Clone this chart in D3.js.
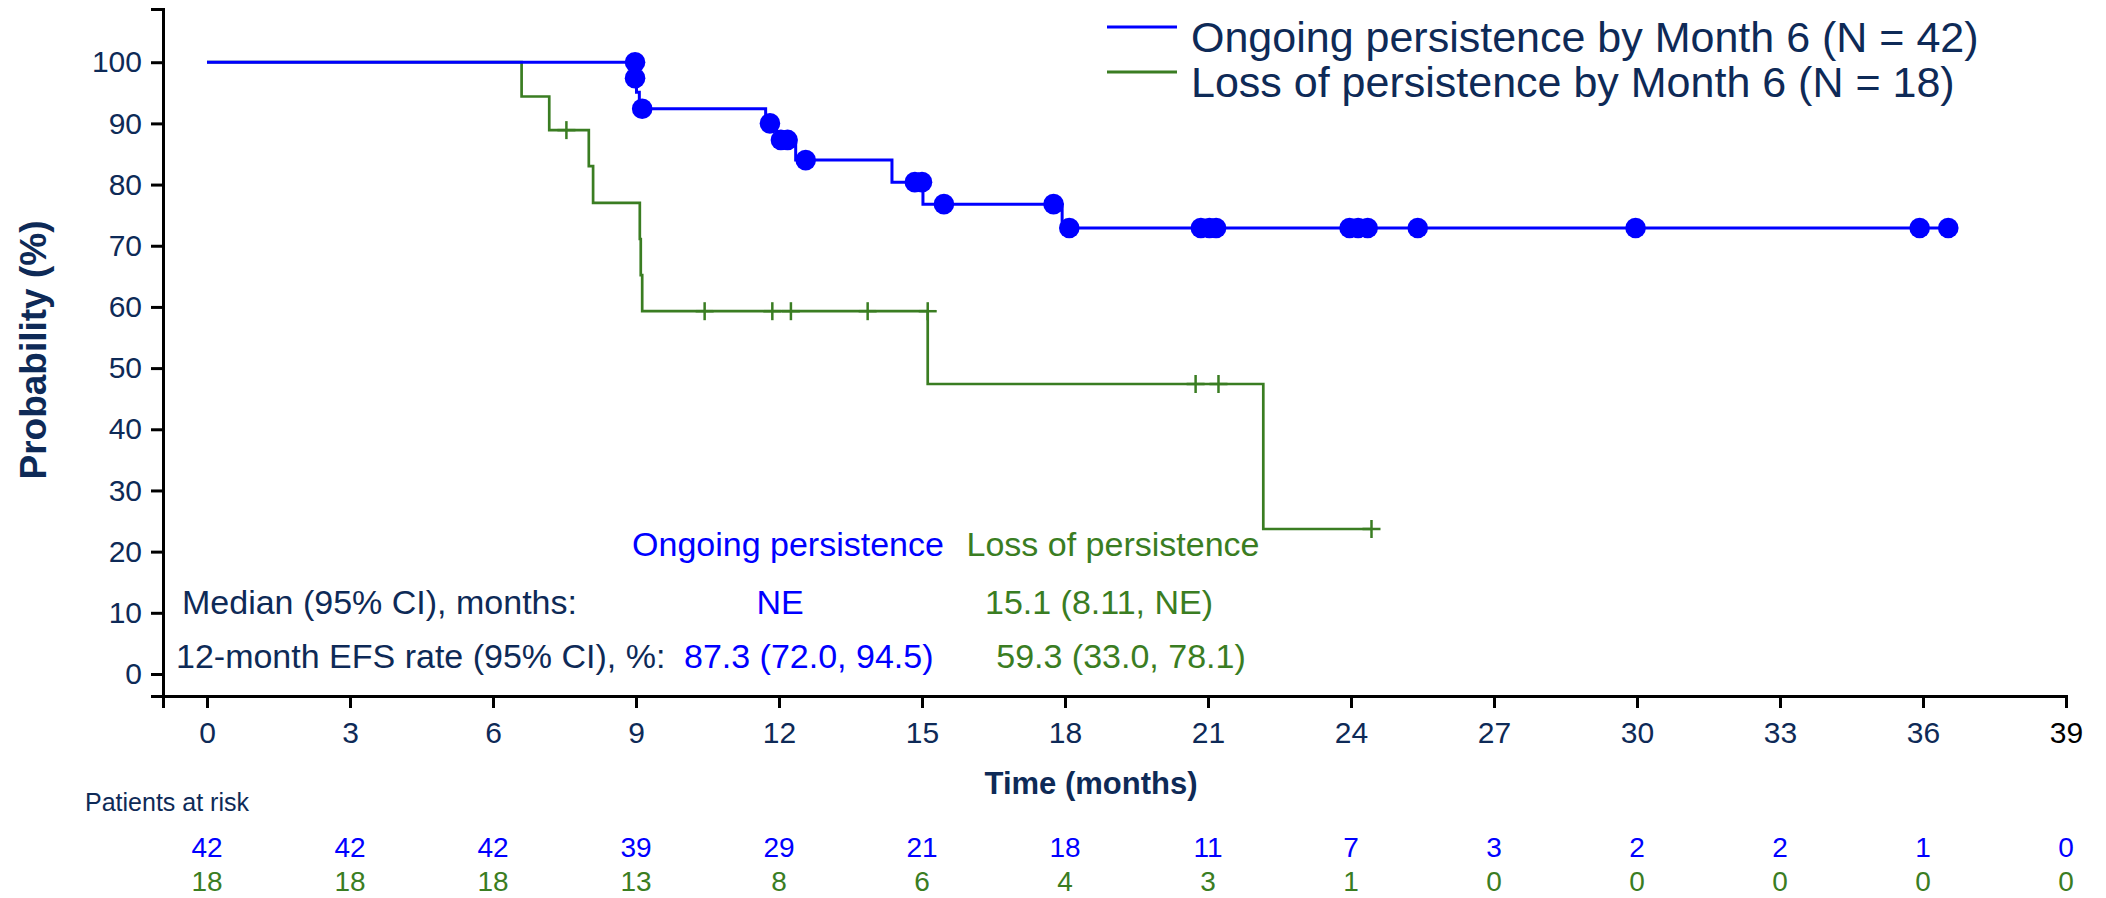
<!DOCTYPE html>
<html>
<head>
<meta charset="utf-8">
<script src="https://cdn.jsdelivr.net/npm/d3@7/dist/d3.min.js"></script>
<style>
  html, body { margin: 0; padding: 0; background: #fff; }
  svg { display: block; font-family: "Liberation Sans", Arial, sans-serif; }
</style>
</head>
<body>
<svg id="chart" width="2106" height="898"></svg>
<script>
// Kaplan–Meier step data (time in months, survival probability in %)
const ongoingTimes  = [0, 8.98, 9.01, 9.07, 11.72, 11.95, 12.35, 14.37, 15.02, 17.94];
const ongoingValues = [100, 97.4, 95.1, 92.4, 90.0, 87.3, 84.0, 80.4, 76.8, 72.9];
const ongoingEnd = 36.53;
const ongoingCensorTimes  = [8.98, 8.98, 9.13, 11.81, 12.04, 12.18, 12.56, 14.85, 15.0, 15.46, 17.76, 18.09,
                             20.85, 21.03, 21.17, 23.97, 24.15, 24.35, 25.4, 29.97, 35.93, 36.53];
const ongoingCensorValues = [100, 97.4, 92.4, 90.0, 87.3, 87.3, 84.0, 80.4, 80.4, 76.8, 76.8, 72.9,
                             72.9, 72.9, 72.9, 72.9, 72.9, 72.9, 72.9, 72.9, 72.9, 72.9];

const lossTimes  = [0, 6.60, 7.18, 8.01, 8.10, 9.08, 9.10, 9.13, 15.12, 22.16];
const lossValues = [100, 94.4, 88.9, 83.0, 77.0, 71.1, 65.2, 59.3, 47.4, 23.7];
const lossEnd = 24.43;
const lossCensorTimes  = [7.54, 10.44, 11.86, 12.25, 13.86, 15.12, 20.74, 21.22, 24.43];
const lossCensorValues = [88.9, 59.3, 59.3, 59.3, 59.3, 59.3, 47.4, 47.4, 23.7];

// Axis ticks
const xTicks = [0, 3, 6, 9, 12, 15, 18, 21, 24, 27, 30, 33, 36, 39];
const yTicks = [0, 10, 20, 30, 40, 50, 60, 70, 80, 90, 100];

// Numbers at risk at each x tick
const riskOngoing = [42, 42, 42, 39, 29, 21, 18, 11, 7, 3, 2, 2, 1, 0];
const riskLoss    = [18, 18, 18, 13, 8, 6, 4, 3, 1, 0, 0, 0, 0, 0];

const legendLabels = ["Ongoing persistence by Month 6 (N = 42)", "Loss of persistence by Month 6 (N = 18)"];

const BLUE = "#0000ff";
const GREEN = "#3a7d22";
const NAVY = "#0e2a57";

const svg = d3.select("#chart");

const x = d3.scaleLinear().domain([-0.923, 39]).range([163, 2066]);
const y = d3.scaleLinear().domain([-3.6, 108.7]).range([696, 9]);

// Axes
const xAxis = d3.axisBottom(x).tickValues(xTicks).tickSizeOuter(0).tickSize(12).tickPadding(14);
const gx = svg.append("g").attr("transform", `translate(0,${y.range()[0]})`).call(xAxis);
gx.select(".domain").attr("stroke", "#000").attr("stroke-width", 3);
gx.selectAll(".tick line").attr("stroke", "#000").attr("stroke-width", 3);
gx.selectAll(".tick text").attr("font-size", 30).attr("fill", d => d === 39 ? "#000" : NAVY)
  .attr("font-family", "Liberation Sans, Arial, sans-serif");

const yAxis = d3.axisLeft(y).tickValues(yTicks).tickSizeOuter(0).tickSize(12).tickPadding(9);
const gy = svg.append("g").attr("transform", `translate(${x.range()[0]},0)`).call(yAxis);
gy.select(".domain").attr("stroke", "#000").attr("stroke-width", 3);
gy.selectAll(".tick line").attr("stroke", "#000").attr("stroke-width", 3);
gy.selectAll(".tick text").attr("font-size", 30).attr("fill", NAVY)
  .attr("font-family", "Liberation Sans, Arial, sans-serif");

// Axis titles
svg.append("text")
  .attr("transform", `translate(46,350) rotate(-90)`)
  .attr("text-anchor", "middle").attr("font-weight", "bold").attr("font-size", 37)
  .attr("fill", NAVY).text("Probability (%)");

svg.append("text")
  .attr("x", 1091).attr("y", 794)
  .attr("text-anchor", "middle").attr("font-weight", "bold").attr("font-size", 31)
  .attr("fill", NAVY).text("Time (months)");

// Step curves
function stepPoints(times, values, end) {
  const pts = times.map((t, i) => [t, values[i]]);
  pts.push([end, values[values.length - 1]]);
  return pts;
}
const stepLine = d3.line().x(d => x(d[0])).y(d => y(d[1])).curve(d3.curveStepAfter);

svg.append("path")
  .datum(stepPoints(lossTimes, lossValues, lossEnd))
  .attr("d", stepLine).attr("fill", "none").attr("stroke", GREEN).attr("stroke-width", 2.7);

svg.append("path")
  .datum(stepPoints(ongoingTimes, ongoingValues, ongoingEnd))
  .attr("d", stepLine).attr("fill", "none").attr("stroke", BLUE).attr("stroke-width", 3);

// Censor marks: "+" for loss group, filled dots for ongoing group
const lossCensors = lossCensorTimes.map((t, i) => [t, lossCensorValues[i]]);
const plus = svg.append("g").selectAll("g").data(lossCensors).join("g")
  .attr("transform", d => `translate(${x(d[0])},${y(d[1])})`);
plus.append("line").attr("x1", -9).attr("x2", 9).attr("stroke", GREEN).attr("stroke-width", 2.5);
plus.append("line").attr("y1", -9).attr("y2", 9).attr("stroke", GREEN).attr("stroke-width", 2.5);

const ongoingCensors = ongoingCensorTimes.map((t, i) => [t, ongoingCensorValues[i]]);
svg.append("g").selectAll("circle").data(ongoingCensors).join("circle")
  .attr("cx", d => x(d[0])).attr("cy", d => y(d[1])).attr("r", 10.3).attr("fill", BLUE);

// Legend
const legend = svg.append("g");
[BLUE, GREEN].forEach((c, i) => {
  legend.append("line").attr("x1", 1107).attr("x2", 1177)
    .attr("y1", 27 + i * 45).attr("y2", 27 + i * 45)
    .attr("stroke", c).attr("stroke-width", 3);
  legend.append("text").attr("x", 1191).attr("y", 52 + i * 45)
    .attr("font-size", 43).attr("fill", NAVY).text(legendLabels[i]);
});

// Summary statistics
const stats = svg.append("g").attr("font-size", 34);
stats.append("text").attr("x", 788).attr("y", 556).attr("text-anchor", "middle").attr("fill", BLUE).text("Ongoing persistence");
stats.append("text").attr("x", 1113).attr("y", 556).attr("text-anchor", "middle").attr("fill", GREEN).text("Loss of persistence");
stats.append("text").attr("x", 182).attr("y", 614).attr("fill", NAVY).text("Median (95% CI), months:");
stats.append("text").attr("x", 780).attr("y", 614).attr("text-anchor", "middle").attr("fill", BLUE).text("NE");
stats.append("text").attr("x", 1099).attr("y", 614).attr("text-anchor", "middle").attr("fill", GREEN).text("15.1 (8.11, NE)");
stats.append("text").attr("x", 176).attr("y", 668).attr("fill", NAVY).text("12-month EFS rate (95% CI), %:");
stats.append("text").attr("x", 684).attr("y", 668).attr("fill", BLUE).text("87.3 (72.0, 94.5)");
stats.append("text").attr("x", 1121).attr("y", 668).attr("text-anchor", "middle").attr("fill", GREEN).text("59.3 (33.0, 78.1)");

// Patients at risk table
svg.append("text").attr("x", 85).attr("y", 811).attr("font-size", 25).attr("fill", NAVY).text("Patients at risk");
const risk = svg.append("g").attr("font-size", 28).attr("text-anchor", "middle");
risk.selectAll("text.ongoing").data(riskOngoing).join("text").attr("class", "ongoing")
  .attr("x", (d, i) => x(xTicks[i])).attr("y", 857).attr("fill", BLUE).text(d => d);
risk.selectAll("text.loss").data(riskLoss).join("text").attr("class", "loss")
  .attr("x", (d, i) => x(xTicks[i])).attr("y", 891).attr("fill", GREEN).text(d => d);
</script>
</body>
</html>
